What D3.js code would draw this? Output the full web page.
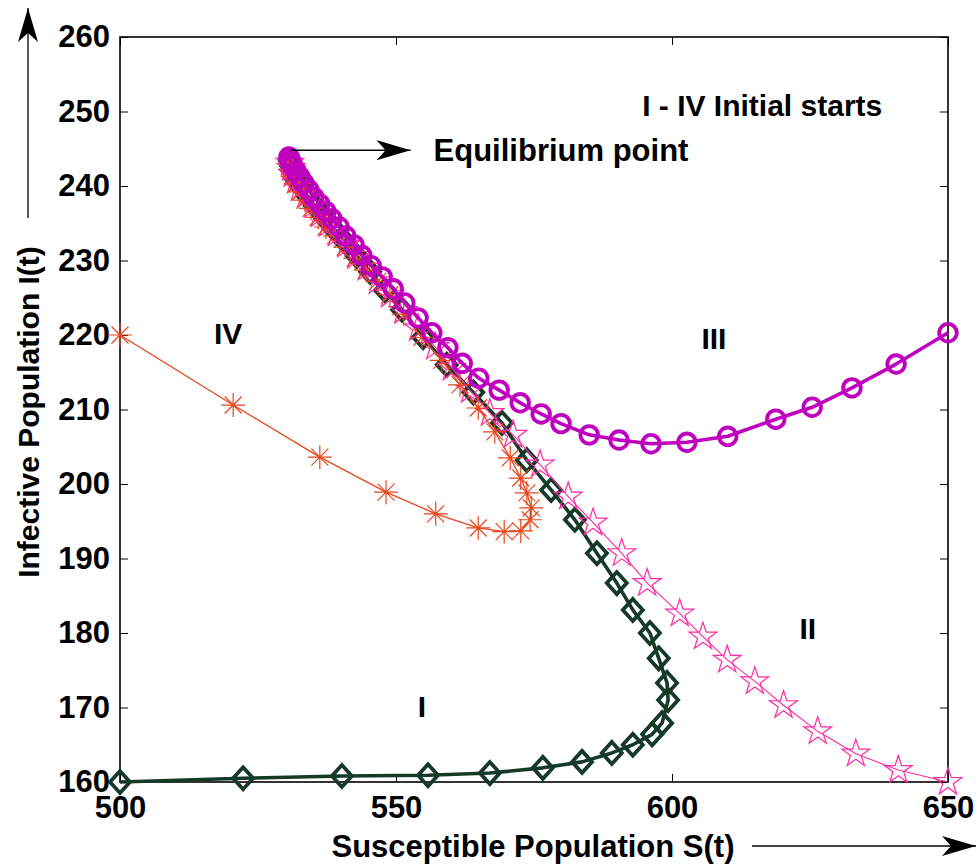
<!DOCTYPE html>
<html>
<head>
<meta charset="utf-8">
<script src="https://cdn.jsdelivr.net/npm/d3@7"></script>
<style>
  body { margin: 0; background: #fff; }
  text { font-family: "Liberation Sans", Arial, sans-serif; font-weight: bold; }
</style>
</head>
<body>
<div id="vis"></div>
<script>
// data: S(t) and I(t) for the four initial starts
const S_I = [500, 522.3, 540.2, 555.8, 567.0, 576.6, 583.7, 589.1, 592.9, 596.4, 598.2, 599.3, 599.1, 597.6, 596.0, 592.9, 590.0, 586.4, 582.4, 578.1, 573.7, 569.2, 564.0, 559.2, 554.9, 551.1, 548.0, 545.3, 542.9, 540.8, 538.8, 537.0, 535.3, 533.9, 532.8, 531.9, 531.3, 531.0, 530.8];
const I_I = [160, 160.5, 160.8, 160.9, 161.2, 161.9, 162.7, 163.9, 165.0, 166.4, 167.9, 171.0, 173.3, 176.6, 180.0, 183.1, 186.7, 190.7, 195.2, 199.2, 203.2, 208.2, 212.3, 216.0, 219.7, 223.4, 226.0, 228.5, 230.6, 232.5, 234.2, 235.8, 237.3, 238.7, 239.9, 240.9, 241.9, 242.7, 243.4];

const S_II = [650, 641.0, 633.3, 626.4, 620.2, 615.0, 610.0, 605.6, 601.4, 595.5, 590.9, 585.7, 581.2, 576.1, 571.2, 567.0, 563.4, 560.1, 557.1, 554.0, 551.3, 548.9, 546.7, 544.7, 542.8, 541.0, 539.3, 537.7, 536.2, 535.0, 533.7, 532.6, 531.9, 531.3, 531.0, 530.8];
const I_II = [160, 161.6, 163.8, 166.8, 170.3, 173.5, 176.4, 179.5, 182.6, 186.7, 190.7, 194.8, 198.3, 202.6, 206.6, 209.5, 212.6, 215.6, 218.4, 220.9, 223.2, 225.4, 227.2, 229.0, 230.6, 232.1, 233.6, 234.9, 236.2, 237.4, 238.7, 239.7, 240.7, 241.6, 242.4, 243.1];

const S_III = [650, 640.6, 632.6, 625.4, 618.8, 610.1, 602.7, 596.2, 590.4, 585.0, 579.9, 576.3, 572.5, 568.7, 565.0, 562.0, 559.4, 556.5, 554.0, 551.6, 549.5, 547.5, 545.5, 543.8, 542.4, 540.9, 539.7, 538.4, 537.3, 536.2, 535.1, 534.2, 533.3, 532.6, 531.9, 531.3, 531.0, 530.8, 530.6];
const I_III = [220.3, 216.1, 212.9, 210.3, 208.7, 206.4, 205.6, 205.4, 205.9, 206.6, 208.1, 209.4, 210.9, 212.6, 214.2, 216.2, 218.3, 220.3, 222.3, 224.3, 226.2, 227.8, 229.3, 230.7, 232.1, 233.3, 234.5, 235.6, 236.6, 237.6, 238.5, 239.5, 240.4, 241.2, 242.0, 242.7, 243.2, 243.6, 243.9];

const S_IV = [500, 520.5, 536.2, 548.2, 557.2, 564.9, 569.6, 572.6, 574.3, 574.5, 573.7, 572.6, 570.7, 567.9, 564.9, 561.6, 558.3, 554.7, 551.4, 548.9, 546.7, 544.6, 542.6, 540.8, 539.0, 537.3, 535.9, 534.6, 533.5, 532.6, 531.9, 531.3, 531.0, 530.8];
const I_IV = [220, 210.6, 203.6, 198.9, 196.0, 194.1, 193.6, 193.7, 195.2, 196.8, 198.8, 200.8, 203.5, 207.0, 210.2, 213.3, 216.6, 219.7, 222.8, 225.4, 227.2, 228.7, 230.3, 231.8, 233.3, 234.5, 235.8, 237.0, 238.1, 239.2, 240.3, 241.3, 242.3, 243.1];

const X_TICKS = [500, 550, 600, 650];
const Y_TICKS = [160, 170, 180, 190, 200, 210, 220, 230, 240, 250, 260];

// labels for the starts
const START_LABELS = [
  {text: "I", s: 554.7, i: 170.2},
  {text: "II", s: 624.6, i: 180.6},
  {text: "III", s: 607.6, i: 219.6},
  {text: "IV", s: 519.6, i: 220.2}
];

const EQ_POINT = [530.9, 244.8];

// frame
const FRAME_WIDTH = 978;
const FRAME_HEIGHT = 865;
const MARGINS = {left: 120, right: 30, top: 37, bottom: 83};
const VIS_WIDTH = FRAME_WIDTH - MARGINS.left - MARGINS.right;
const VIS_HEIGHT = FRAME_HEIGHT - MARGINS.top - MARGINS.bottom;

const svg = d3.select("#vis")
  .append("svg")
    .attr("width", FRAME_WIDTH)
    .attr("height", FRAME_HEIGHT);

const defs = svg.append("defs");
defs.append("marker")
    .attr("id", "head")
    .attr("viewBox", "0 -10 34 20")
    .attr("refX", 34)
    .attr("refY", 0)
    .attr("markerWidth", 34)
    .attr("markerHeight", 20)
    .attr("markerUnits", "userSpaceOnUse")
    .attr("orient", "auto")
  .append("path")
    .attr("d", "M0,-10 L34,0 L0,10 L9,0 Z")
    .attr("fill", "#000");

const X_SCALE = d3.scaleLinear().domain([500, 650]).range([0, VIS_WIDTH]);
const Y_SCALE = d3.scaleLinear().domain([160, 260]).range([VIS_HEIGHT, 0]);

const g = svg.append("g")
  .attr("transform", "translate(" + MARGINS.left + "," + MARGINS.top + ")");

// ticks inside the box on all four sides
g.append("g")
  .attr("transform", "translate(0," + VIS_HEIGHT + ")")
  .call(d3.axisBottom(X_SCALE).tickValues(X_TICKS).tickSizeInner(-8).tickSizeOuter(0).tickPadding(14))
  .call(a => a.select(".domain").remove())
  .attr("font-size", "31px");

g.append("g")
  .call(d3.axisLeft(Y_SCALE).tickValues(Y_TICKS).tickSizeInner(-8).tickSizeOuter(0).tickPadding(10))
  .call(a => a.select(".domain").remove())
  .attr("font-size", "31px");

g.append("g")
  .call(d3.axisTop(X_SCALE).tickValues(X_TICKS).tickSizeInner(-8).tickSizeOuter(0).tickFormat(""))
  .call(a => a.select(".domain").remove());

g.append("g")
  .attr("transform", "translate(" + VIS_WIDTH + ",0)")
  .call(d3.axisRight(Y_SCALE).tickValues(Y_TICKS).tickSizeInner(-8).tickSizeOuter(0).tickFormat(""))
  .call(a => a.select(".domain").remove());

g.selectAll(".tick text").attr("font-family", "'Liberation Sans', Arial, sans-serif").attr("font-weight", "bold");
g.selectAll(".tick line").attr("stroke", "#000").attr("stroke-width", 1);

g.append("rect")
  .attr("width", VIS_WIDTH)
  .attr("height", VIS_HEIGHT)
  .attr("fill", "none")
  .attr("stroke", "#000")
  .attr("stroke-width", 1.6);

// marker shapes
const diamond = "M0,-11 L10,0 L0,11 L-10,0 Z";
const star = d3.symbol().type(d3.symbolStar).size(240)();
const asterisk = "M-12,0 L12,0 M0,-12 L0,12 M-8.5,-8.5 L8.5,8.5 M-8.5,8.5 L8.5,-8.5";

function pts(sArr, iArr) {
  return sArr.map((s, k) => [s, iArr[k]]);
}

const line = d3.line()
  .x(d => X_SCALE(d[0]))
  .y(d => Y_SCALE(d[1]))
  .curve(d3.curveLinear);

const SERIES = [
  {data: pts(S_I, I_I), color: "#153b28", lw: 3.6, shape: "diamond"},
  {data: pts(S_II, I_II), color: "#ff2aa6", lw: 1.1, shape: "star"},
  {data: pts(S_IV, I_IV), color: "#e8461c", lw: 1.3, shape: "asterisk"},
  {data: pts(S_III, I_III), color: "#bf00bf", lw: 3.6, shape: "circle"}
];

SERIES.forEach(ser => {
  g.append("path")
    .datum(ser.data)
    .attr("d", line)
    .attr("fill", "none")
    .attr("stroke", ser.color)
    .attr("stroke-width", ser.lw)
    .attr("stroke-linejoin", "round");

  const m = g.selectAll(null)
    .data(ser.data)
    .enter();

  if (ser.shape === "circle") {
    m.append("circle")
      .attr("cx", d => X_SCALE(d[0]))
      .attr("cy", d => Y_SCALE(d[1]))
      .attr("r", 8.8)
      .attr("fill", "none")
      .attr("stroke", ser.color)
      .attr("stroke-width", 3.8);
  } else {
    const p = ser.shape === "diamond" ? diamond : (ser.shape === "star" ? star : asterisk);
    m.append("path")
      .attr("transform", d => "translate(" + X_SCALE(d[0]) + "," + Y_SCALE(d[1]) + ")")
      .attr("d", p)
      .attr("fill", "none")
      .attr("stroke", ser.color)
      .attr("stroke-width", ser.shape === "diamond" ? 3.8 : 1.2);
  }
});

// equilibrium arrow + labels
g.append("line")
  .attr("x1", X_SCALE(EQ_POINT[0]))
  .attr("y1", Y_SCALE(EQ_POINT[1]))
  .attr("x2", X_SCALE(EQ_POINT[0]) + 120)
  .attr("y2", Y_SCALE(EQ_POINT[1]))
  .attr("stroke", "#000")
  .attr("stroke-width", 1.3)
  .attr("marker-end", "url(#head)");

g.append("text")
  .attr("x", X_SCALE(EQ_POINT[0]) + 143)
  .attr("y", Y_SCALE(EQ_POINT[1]))
  .attr("dy", "0.36em")
  .attr("font-size", "31px")
  .text("Equilibrium point");

g.append("text")
  .attr("x", X_SCALE(594.6))
  .attr("y", Y_SCALE(250.8))
  .attr("dy", "0.36em")
  .attr("font-size", "30px")
  .text("I - IV Initial starts");

g.selectAll(".startlab")
  .data(START_LABELS)
  .enter()
  .append("text")
    .attr("x", d => X_SCALE(d.s))
    .attr("y", d => Y_SCALE(d.i))
    .attr("dy", "0.36em")
    .attr("text-anchor", "middle")
    .attr("font-size", "30px")
    .text(d => d.text);

// axis titles with arrows
svg.append("text")
  .attr("x", 533)
  .attr("y", 846)
  .attr("dy", "0.36em")
  .attr("text-anchor", "middle")
  .attr("font-size", "31px")
  .text("Susceptible Population S(t)");

svg.append("line")
  .attr("x1", 752).attr("y1", 846)
  .attr("x2", 976).attr("y2", 846)
  .attr("stroke", "#000")
  .attr("stroke-width", 1.3)
  .attr("marker-end", "url(#head)");

svg.append("text")
  .attr("transform", "translate(28,412) rotate(-90)")
  .attr("dy", "0.36em")
  .attr("text-anchor", "middle")
  .attr("font-size", "30px")
  .text("Infective Population I(t)");

svg.append("line")
  .attr("x1", 28).attr("y1", 218)
  .attr("x2", 28).attr("y2", 8)
  .attr("stroke", "#000")
  .attr("stroke-width", 1.3)
  .attr("marker-end", "url(#head)");
</script>
</body>
</html>
